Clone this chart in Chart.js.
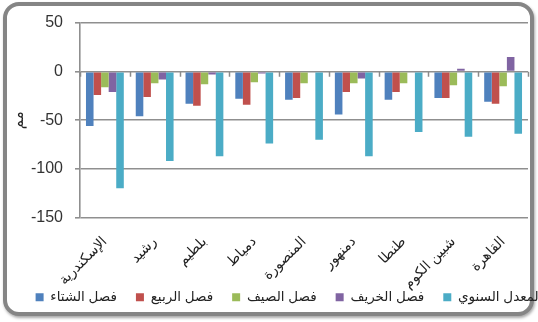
<!DOCTYPE html>
<html>
<head>
<meta charset="utf-8">
<script src="https://cdn.jsdelivr.net/npm/chart.js@4/dist/chart.umd.min.js"></script>
<style>
  html, body { margin: 0; padding: 0; background: #fff; overflow: hidden; width: 538px; height: 322px; }
  #wrap { position: relative; width: 538px; height: 322px; }
  #frame {
    position: absolute; left: 3px; top: 2px; width: 523px; height: 306px;
    border: 4px solid #858585; border-radius: 16px;
    box-shadow: 1px 2px 3px rgba(0,0,0,0.35);
    background: #fff;
  }
  #c { position: absolute; left: 0; top: 0; }
</style>
</head>
<body>
<div id="wrap">
  <div id="frame"></div>
  <canvas id="c" width="578" height="322"></canvas>
</div>
<script>
// Cities (categories along the x axis)
const cities = ['الإسكندرية', 'رشيد', 'بلطيم', 'دمياط', 'المنصورة', 'دمنهور', 'طنطا', 'شبين الكوم', 'القاهرة'];

// Series names
const seriesNames = ['فصل الشتاء', 'فصل الربيع', 'فصل الصيف', 'فصل الخريف', 'المعدل السنوي'];

// Values per city (mm)
const winter = [-56, -46, -33, -28, -29, -44, -29, -27, -31];
const spring = [-24, -26, -35, -34, -27, -21, -21, -27, -33];
const summer = [-16, -12, -13, -11, -12, -12, -12, -14, -15];
const autumn = [-21, -8, -3, -2, -1, -7, 1, 3, 15];
const annual = [-120, -92, -87, -74, -70, -87, -62, -67, -64];

// Value axis
const yMin = -150, yMax = 50, yStep = 50;
const yTitle = 'مم';

const colors = ['#4f81bd', '#c0504d', '#9bbb59', '#8064a2', '#4bacc6'];
const seriesValues = [winter, spring, summer, autumn, annual];

const FONT = "'Liberation Sans', 'DejaVu Sans', Arial, sans-serif";

// small tick marks on the zero line between categories
const zeroTicks = {
  id: 'zeroTicks',
  afterDatasetsDraw(chart) {
    const x = chart.scales.x, y = chart.scales.y;
    const y0 = y.getPixelForValue(0);
    const ctx = chart.ctx;
    ctx.save();
    ctx.strokeStyle = '#8a8a8a';
    ctx.lineWidth = 1.5;
    ctx.beginPath();
    for (let i = 0; i <= cities.length; i++) {
      const px = Math.round(x.getPixelForValue(i - 0.5)) + 0.5;
      ctx.moveTo(px, y0);
      ctx.lineTo(px, y0 + 5);
    }
    ctx.stroke();
    ctx.restore();
  }
};

// let the slanted city names run down past the axis box (they reach into the legend row)
const longLabels = {
  id: 'longLabels',
  afterLayout(chart) {
    chart.scales.x.bottom = chart.height;
  }
};

new Chart(document.getElementById('c'), {
  type: 'bar',
  data: {
    labels: cities,
    datasets: seriesNames.map((n, i) => ({
      label: n,
      data: seriesValues[i],
      backgroundColor: colors[i],
      borderWidth: 0,
      categoryPercentage: 0.76,
      barPercentage: 1.0
    }))
  },
  options: {
    responsive: false,
    animation: false,
    devicePixelRatio: 1,
    layout: { padding: { top: 23, bottom: 8, left: 0, right: 0 } },
    plugins: {
      legend: {
        position: 'bottom',
        labels: {
          boxWidth: 8, boxHeight: 8,
          font: { family: FONT, size: 13.5 },
          color: '#222',
          padding: 19
        }
      },
      tooltip: { enabled: false }
    },
    scales: {
      x: {
        grid: { display: false },
        border: { display: false },
        ticks: {
          autoSkip: false, minRotation: 45, maxRotation: 45,
          font: { family: FONT, size: 14 }, color: '#222', padding: 8
        },
        afterFit(s) { s.height = 54; }
      },
      y: {
        min: yMin, max: yMax,
        ticks: { stepSize: yStep, font: { family: FONT, size: 16 }, color: '#333', padding: 12 },
        grid: { color: '#8f8f8f', lineWidth: 1.6, tickLength: 5 },
        border: { color: '#8f8f8f', width: 1.6 },
        title: { display: true, text: yTitle, font: { family: FONT, size: 15 }, color: '#222', padding: { top: 10, bottom: 0 } },
        afterFit(s) { s.width = 80; }
      },
      yPad: {
        type: 'linear', position: 'right', display: true,
        grid: { display: false }, border: { display: false }, ticks: { display: false },
        afterFit(s) { s.width = 50; }
      }
    }
  },
  plugins: [zeroTicks, longLabels]
});
</script>
</body>
</html>
